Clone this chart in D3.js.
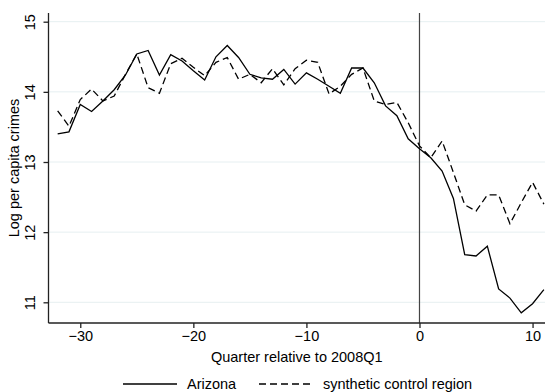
<!DOCTYPE html>
<html>
<head>
<meta charset="utf-8">
<script src="https://cdn.jsdelivr.net/npm/d3@7"></script>
<style>
  body { margin: 0; background: #fff; }
  text { font-family: "Liberation Sans", Arial, sans-serif; fill: #000; }
</style>
</head>
<body>
<div id="chart"></div>
<script>
// quarters relative to 2008Q1
const quarters = d3.range(-32, 12);

// log per capita crimes
const arizona = [13.40, 13.43, 13.82, 13.72, 13.87, 14.03, 14.24, 14.54, 14.59, 14.24,
  14.53, 14.44, 14.30, 14.17, 14.50, 14.66, 14.49, 14.25, 14.20, 14.18,
  14.32, 14.11, 14.27, 14.18, 14.08, 13.98, 14.34, 14.34, 14.13, 13.80,
  13.66, 13.33, 13.19, 13.06, 12.87, 12.48, 11.68, 11.66, 11.80, 11.19,
  11.06, 10.85, 10.98, 11.18];
const synthetic = [13.73, 13.51, 13.89, 14.04, 13.87, 13.94, 14.25, 14.54, 14.06, 13.98,
  14.40, 14.48, 14.35, 14.23, 14.42, 14.49, 14.18, 14.25, 14.13, 14.33,
  14.10, 14.33, 14.45, 14.42, 13.97, 14.08, 14.25, 14.34, 13.87, 13.82,
  13.85, 13.56, 13.23, 13.06, 13.30, 12.85, 12.39, 12.30, 12.53, 12.53,
  12.12, 12.42, 12.71, 12.40];

const xTicks = [-30, -20, -10, 0, 10];
const yTicks = [11, 12, 13, 14, 15];

const width = 549, height = 392;
const margin = { left: 48.5, right: 545, top: 13, bottom: 323 };

const svg = d3.select("#chart").append("svg")
    .attr("width", width)
    .attr("height", height);

let x = d3.scaleLinear().domain([-32.81, 11.1]).range([margin.left, margin.right]);
let y = d3.scaleLinear().domain([10.705, 15.124]).range([margin.bottom, margin.top]);

// grid
svg.append("g")
    .selectAll("line")
    .data(yTicks)
    .enter()
    .append("line")
    .attr("x1", margin.left)
    .attr("x2", margin.right)
    .attr("y1", d => y(d))
    .attr("y2", d => y(d))
    .attr("stroke", "#e6eff1")
    .attr("stroke-width", 1);

// vertical line at 2008Q1
svg.append("line")
    .attr("x1", x(0)).attr("x2", x(0))
    .attr("y1", margin.top).attr("y2", margin.bottom)
    .attr("stroke", "#444")
    .attr("stroke-width", 1.2);

// axes
let xAxis = d3.axisBottom(x).tickValues(xTicks).tickSize(5).tickPadding(3)
    .tickFormat(d => d < 0 ? "\u2212" + Math.abs(d) : d);
let gx = svg.append("g")
    .attr("transform", `translate(0,${margin.bottom})`)
    .call(xAxis);
gx.select(".domain").attr("d", `M${margin.left},0H${margin.right}`);

let yAxis = d3.axisLeft(y).tickValues(yTicks).tickSize(5).tickFormat(d => d);
let gy = svg.append("g")
    .attr("transform", `translate(${margin.left},0)`)
    .call(yAxis);
gy.select(".domain").attr("d", `M0,${margin.top}V${margin.bottom}`);
gy.selectAll(".tick text")
    .attr("x", 0).attr("dy", 0)
    .attr("transform", "translate(-13.5,0) rotate(-90)")
    .attr("text-anchor", "middle");

svg.selectAll(".domain, .tick line").attr("stroke", "#222").attr("stroke-width", 1.3);
svg.selectAll(".tick text")
    .style("font-family", "'Liberation Sans', Arial, sans-serif")
    .style("font-size", "14.5px")
    .attr("fill", "#000");

// axis titles
svg.append("text")
    .attr("x", (margin.left + margin.right) / 2)
    .attr("y", 362)
    .attr("text-anchor", "middle")
    .style("font-size", "14.5px")
    .text("Quarter relative to 2008Q1");

svg.append("text")
    .attr("transform", `translate(19,${(margin.top + margin.bottom) / 2}) rotate(-90)`)
    .attr("text-anchor", "middle")
    .style("font-size", "14.5px")
    .text("Log per capita crimes");

// lines
let line = d3.line().x((d, i) => x(quarters[i])).y(d => y(d));

svg.append("path")
    .datum(synthetic)
    .attr("d", line)
    .attr("fill", "none")
    .attr("stroke", "#000")
    .attr("stroke-width", 1.3)
    .attr("stroke-dasharray", "7,4");

svg.append("path")
    .datum(arizona)
    .attr("d", line)
    .attr("fill", "none")
    .attr("stroke", "#000")
    .attr("stroke-width", 1.3);

// legend
let legend = svg.append("g");
let items = [
  { label: "Arizona", x: 123, dash: null },
  { label: "synthetic control region", x: 259, dash: "7,4" }
];
items.forEach(it => {
  legend.append("line")
      .attr("x1", it.x).attr("x2", it.x + 54)
      .attr("y1", 384).attr("y2", 384)
      .attr("stroke", "#000")
      .attr("stroke-width", 1.3)
      .attr("stroke-dasharray", it.dash);
  legend.append("text")
      .attr("x", it.x + 64)
      .attr("y", 389)
      .style("font-size", "14.5px")
      .text(it.label);
});
</script>
</body>
</html>
